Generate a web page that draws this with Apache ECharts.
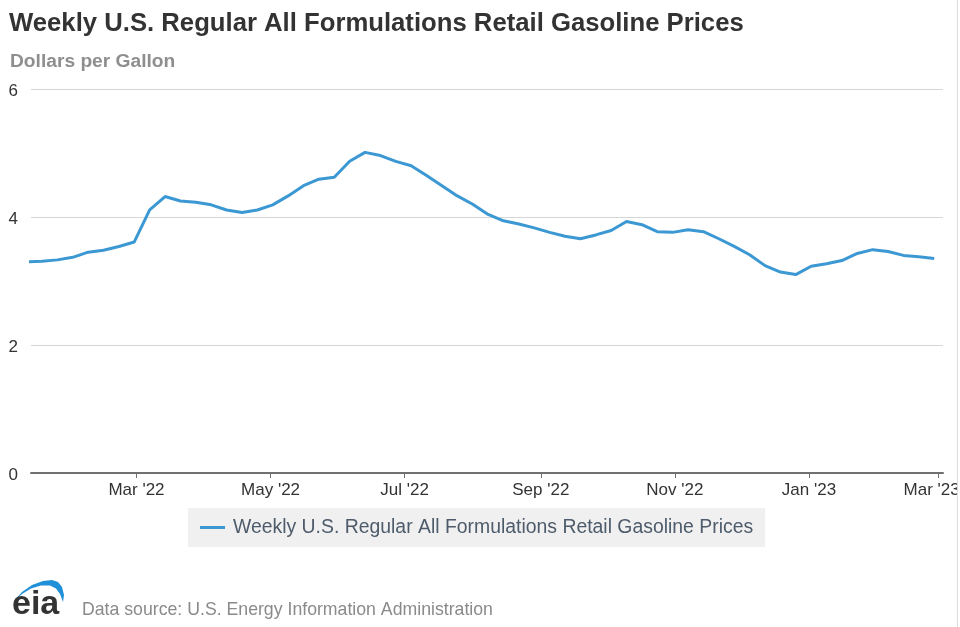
<!DOCTYPE html>
<html>
<head>
<meta charset="utf-8">
<script src="https://cdn.jsdelivr.net/npm/echarts@6/dist/echarts.min.js"></script>
<style>
html,body{margin:0;padding:0;background:#fff;}
#chart{width:960px;height:627px;}
</style>
</head>
<body>
<div id="chart"></div>
<script>
// ---- data ----
const seriesName = 'Weekly U.S. Regular All Formulations Retail Gasoline Prices';
const weekDates = [
  '2022-01-10','2022-01-17','2022-01-24','2022-01-31','2022-02-07','2022-02-14','2022-02-21','2022-02-28',
  '2022-03-07','2022-03-14','2022-03-21','2022-03-28','2022-04-04','2022-04-11','2022-04-18','2022-04-25',
  '2022-05-02','2022-05-09','2022-05-16','2022-05-23','2022-05-30','2022-06-06','2022-06-13','2022-06-20',
  '2022-06-27','2022-07-04','2022-07-11','2022-07-18','2022-07-25','2022-08-01','2022-08-08','2022-08-15',
  '2022-08-22','2022-08-29','2022-09-05','2022-09-12','2022-09-19','2022-09-26','2022-10-03','2022-10-10',
  '2022-10-17','2022-10-24','2022-10-31','2022-11-07','2022-11-14','2022-11-21','2022-11-28','2022-12-05',
  '2022-12-12','2022-12-19','2022-12-26','2023-01-02','2023-01-09','2023-01-16','2023-01-23','2023-01-30',
  '2023-02-06','2023-02-13','2023-02-20','2023-02-27'
];
const prices = [
  3.30,3.31,3.33,3.37,3.45,3.48,3.54,3.61,
  4.11,4.32,4.25,4.23,4.19,4.11,4.07,4.11,
  4.19,4.33,4.49,4.59,4.62,4.87,5.01,4.96,
  4.87,4.80,4.65,4.49,4.33,4.20,4.04,3.94,
  3.89,3.83,3.76,3.70,3.66,3.72,3.79,3.93,
  3.88,3.77,3.76,3.80,3.77,3.66,3.54,3.41,
  3.24,3.14,3.10,3.23,3.27,3.32,3.43,3.49,
  3.46,3.40,3.38,3.35
];
const tickDates = ['2022-03-01','2022-05-01','2022-07-01','2022-09-01','2022-11-01','2023-01-01','2023-03-01'];
const tickLabels = ["Mar '22","May '22","Jul '22","Sep '22","Nov '22","Jan '23","Mar '23"];
const xMinDate = '2022-01-12';
const xMaxDate = '2023-03-03';
const yTicks = [0, 2, 4, 6];

// ---- helpers ----
const DAY = 86400000;
function ts(s){ const p = s.split('-').map(Number); return Date.UTC(p[0], p[1]-1, p[2]) / DAY; }
const seriesData = weekDates.map((d,i)=>[ts(d), prices[i]]);
const tickValues = tickDates.map(ts);
const labelFor = {};
tickValues.forEach((v,i)=>{ labelFor[v] = tickLabels[i]; });
const lastTick = tickValues[tickValues.length-1];

const FONT = '"Liberation Sans", Arial, Helvetica, sans-serif';
const chart = echarts.init(document.getElementById('chart'), null, {renderer:'canvas'});
chart.setOption({
  backgroundColor: '#ffffff',
  animation: false,
  textStyle: { fontFamily: FONT },
  title: [
    { text: 'Weekly U.S. Regular All Formulations Retail Gasoline Prices', left: 9, top: 11, padding: 0,
      textStyle: { fontFamily: FONT, fontSize: 25.7, fontWeight: 'bold', color: '#333333' } },
    { text: 'Dollars per Gallon', left: 10, top: 52, padding: 0,
      textStyle: { fontFamily: FONT, fontSize: 19.2, fontWeight: 'bold', color: '#8e8e8e' } }
  ],
  grid: { left: 31, right: 17, top: 89, bottom: 154, containLabel: false, outerBoundsMode: 'none' },
  legend: {
    show: true,
    left: 188, top: 508,
    padding: [10, 12, 10, 12],
    backgroundColor: '#f0f0f0',
    icon: 'rect', itemWidth: 25, itemHeight: 3,
    textStyle: { fontFamily: FONT, fontSize: 19.4, color: '#4d5b6b', padding: [0,0,0,3] },
    data: [seriesName]
  },
  xAxis: {
    type: 'value',
    min: ts(xMinDate), max: ts(xMaxDate),
    axisLine: { show: true, lineStyle: { color: '#707070', width: 2 } },
    axisTick: { show: true, length: 5, lineStyle: { color: '#707070', width: 1 }, customValues: tickValues },
    axisLabel: { show: true, customValues: tickValues, margin: 9, fontSize: 17, color: '#333333', fontFamily: FONT,
      showMinLabel: true, showMaxLabel: true, hideOverlap: false,
      formatter: function(v){ const t = labelFor[v] || ''; return v === lastTick ? '{last|' + t + '}' : t; },
      rich: { last: { fontSize: 17, color: '#333333', fontFamily: FONT, padding: [0, 14, 0, 0] } } },
    splitLine: { show: false }
  },
  yAxis: {
    type: 'value', min: yTicks[0], max: yTicks[yTicks.length-1], interval: 2,
    axisLine: { show: false }, axisTick: { show: false },
    axisLabel: { margin: 13, fontSize: 17, color: '#333333', fontFamily: FONT, verticalAlign: 'top', lineHeight: 4 },
    splitLine: { show: true, lineStyle: { color: '#d6d6d6', width: 1 } }
  },
  series: [{
    name: seriesName, type: 'line', data: seriesData,
    showSymbol: false, symbol: 'none', clip: true,
    lineStyle: { color: '#3b98d3', width: 3 },
    itemStyle: { color: '#3b98d3' }
  }],
  graphic: [
    { type: 'polygon', z: 100, shape: { points: [[14,601],[22,592],[32,585],[43,581],[52,580],[58,582],[62,587],[64,595],[63,602],[60,594],[56,588.5],[50,585.5],[41,585.5],[31,588.5],[22,594]] },
      style: { fill: '#2090d8' } },
    { type: 'text', z: 100, left: 12, top: 588, style: { text: 'eia', font: 'bold 34px ' + FONT, fill: '#333333' } },
    { type: 'text', z: 100, left: 82, top: 601, style: { text: 'Data source: U.S. Energy Information Administration', font: '17.7px ' + FONT, fill: '#8a8a8a' } },
    { type: 'rect', z: 100, shape: { x: 958, y: 0, width: 2, height: 627 }, style: { fill: '#ffffff' } },
    { type: 'line', z: 101, shape: { x1: 957.5, y1: 0, x2: 957.5, y2: 627 }, style: { stroke: '#dddddd', lineWidth: 1 } }
  ]
});
</script>
</body>
</html>
